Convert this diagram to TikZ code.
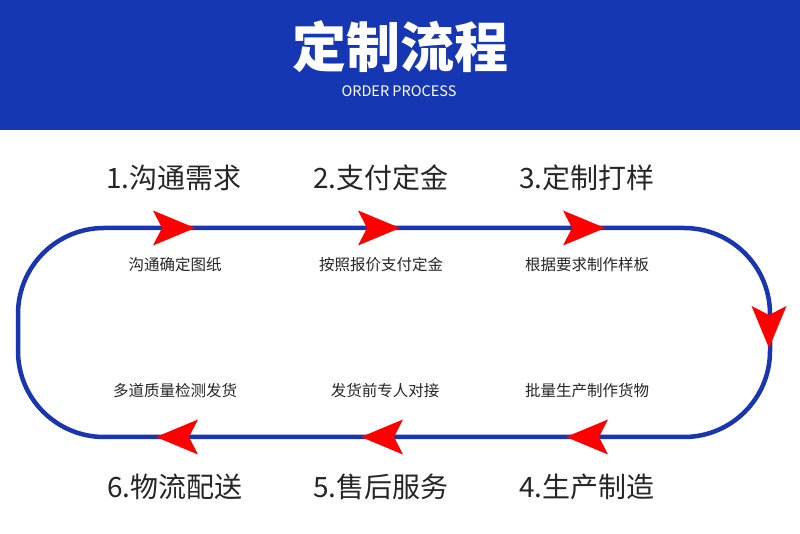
\documentclass[tikz,border=0pt]{standalone}
\usepackage{fontspec}
\usepackage{xcolor}
\usepackage{tikz}
\usetikzlibrary{positioning,calc}
\setmainfont{Noto Sans CJK SC}
\newfontfamily\cjk{Noto Sans CJK SC}
\definecolor{headblue}{HTML}{1637B3}
\definecolor{trackblue}{HTML}{1A35B0}
\definecolor{arrowred}{HTML}{FF0000}

\tikzset{
    flowarrow/.pic={
        \fill[arrowred] (0,0) -- (-42,17.5) -- (-33,0) -- (-42,-17.5) -- cycle;
    }
}

\begin{document}
\begin{tikzpicture}[
    x=1pt, y=1pt,
    font=\cjk,
    steptitle/.style={
        inner sep=0pt,
        font=\cjk\fontsize{28}{30}\selectfont,
        text=black!85
    },
    stepnote/.style={
        inner sep=0pt,
        font=\cjk\fontsize{15.5}{17}\selectfont,
        text=black!85
    },
    track/.style={draw=trackblue, line width=4.5pt, rounded corners=86pt}
]
\useasboundingbox (0,0) rectangle (800,534);

% --- Header band ---
\fill[white] (0,0) rectangle (800,534);
\fill[headblue] (0,404) rectangle (800,534);
\node[inner sep=0pt, text=white, font=\cjk\bfseries\fontsize{54}{56}\selectfont] (title) at (400,487) {定制流程};
\node[inner sep=0pt, text=white, font=\cjk\fontsize{14.5}{16}\selectfont] (subtitle) at (399,443) {ORDER PROCESS};

% --- Track ---
\coordinate (tl) at (18,306);
\coordinate (br) at (770,97);
\draw[track] (tl) rectangle (br);

% --- Arrows on the track ---
\pic at (195,306) {flowarrow};
\pic at (400,306) {flowarrow};
\pic at (605,306) {flowarrow};
\pic[rotate=-90] at (769,186) {flowarrow};
\pic[rotate=180] at (566,97) {flowarrow};
\pic[rotate=180] at (361,97) {flowarrow};
\pic[rotate=180] at (156,97) {flowarrow};

% --- Top steps ---
\node[steptitle] (step1) at (174,356) {1.沟通需求};
\node[steptitle] (step2) at (381,356) {2.支付定金};
\node[steptitle] (step3) at (587,356) {3.定制打样};
\node[stepnote] (note1) at (175,269) {沟通确定图纸};
\node[stepnote] (note2) at (381,269) {按照报价支付定金};
\node[stepnote] (note3) at (587,269) {根据要求制作样板};

% --- Bottom steps ---
\node[steptitle] (step6) at (175,47) {6.物流配送};
\node[steptitle] (step5) at (381,47) {5.售后服务};
\node[steptitle] (step4) at (587,47) {4.生产制造};
\node[stepnote] (note6) at (175,143) {多道质量检测发货};
\node[stepnote] (note5) at (385,143) {发货前专人对接};
\node[stepnote] (note4) at (587,143) {批量生产制作货物};

\end{tikzpicture}
\end{document}
